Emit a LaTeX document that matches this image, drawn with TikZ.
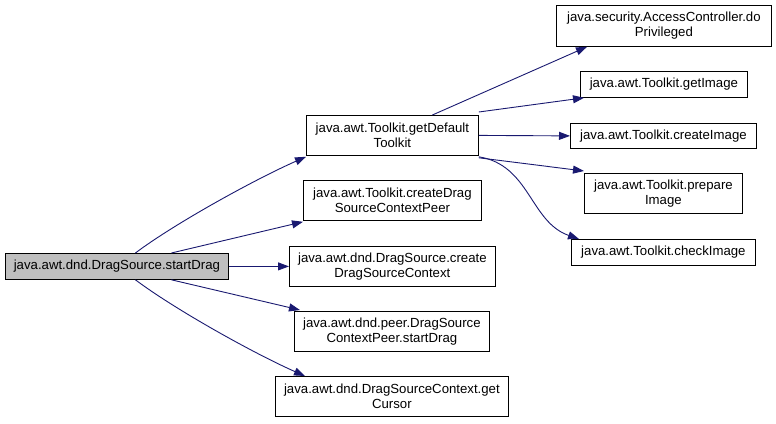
\documentclass[tikz,border=0pt]{standalone}
\usepackage{fontspec}
\setmainfont{Liberation Sans}
\usetikzlibrary{arrows.meta,calc}
\definecolor{edgeblue}{HTML}{191970}
\begin{document}
\begin{tikzpicture}[x=1pt,y=-1pt,
  box/.style={draw=black, line width=0.8pt, anchor=north west, inner sep=0pt, align=center, font=\fontsize{13.2}{15}\selectfont},
  edge/.style={draw=edgeblue, line width=0.9pt, -{Triangle[length=11pt,width=8pt]}}]
\useasboundingbox (0,0) rectangle (776,423);
\node[box, fill=black!25, minimum width=223pt, minimum height=26pt] (sd) at (5,253) {java.awt.dnd.DragSource.startDrag};
\node[box, minimum width=172pt, minimum height=40pt] (gdt) at (306,115) {java.awt.Toolkit.getDefault\\Toolkit};
\node[box, minimum width=178pt, minimum height=40pt] (cdp) at (303,180) {java.awt.Toolkit.createDrag\\SourceContextPeer};
\node[box, minimum width=206pt, minimum height=40pt] (cdc) at (289,246) {java.awt.dnd.DragSource.create\\DragSourceContext};
\node[box, minimum width=195pt, minimum height=40pt] (pst) at (294,311) {java.awt.dnd.peer.DragSource\\ContextPeer.startDrag};
\node[box, minimum width=233pt, minimum height=40pt] (gc) at (275,376) {java.awt.dnd.DragSourceContext.get\\Cursor};
\node[box, minimum width=215pt, minimum height=41pt] (ac) at (556,5) {java.security.AccessController.do\\Privileged};
\node[box, minimum width=167pt, minimum height=26pt] (gi) at (580,71) {java.awt.Toolkit.getImage};
\node[box, minimum width=186pt, minimum height=25pt] (ci) at (570,123) {java.awt.Toolkit.createImage};
\node[box, minimum width=158pt, minimum height=40pt] (pi) at (584,173) {java.awt.Toolkit.prepare\\Image};
\node[box, minimum width=184pt, minimum height=26pt] (chk) at (571,239) {java.awt.Toolkit.checkImage};

\draw[edge] ([xshift=18.5pt]sd.north) .. controls +(40,-30) and +(-50,22) .. ([yshift=-1pt]gdt.south west);
\draw[edge] ([xshift=54.5pt]sd.north) -- ([yshift=-1pt]cdp.south west);
\draw[edge] (sd.east) -- (cdc.west);
\draw[edge] ([xshift=54.5pt]sd.south) -- ([yshift=1pt,xshift=6pt]pst.north west);
\draw[edge] ([xshift=18.5pt]sd.south) .. controls +(40,30) and +(-50,-22) .. ([xshift=30pt]gc.north west);
\draw[edge] ([xshift=40pt]gdt.north) -- ([xshift=31pt]ac.south west);
\draw[edge] ([yshift=3pt]gdt.north east) -- ([xshift=4pt]gi.south west);
\draw[edge] (gdt.east) -- (ci.west);
\draw[edge] ([yshift=-2pt]gdt.south east) -- ([yshift=2pt]pi.north west);
\draw[edge] ([yshift=-1pt]gdt.south east) .. controls (530,165) and (530,222) .. ([xshift=8pt]chk.north west);
\end{tikzpicture}
\end{document}
